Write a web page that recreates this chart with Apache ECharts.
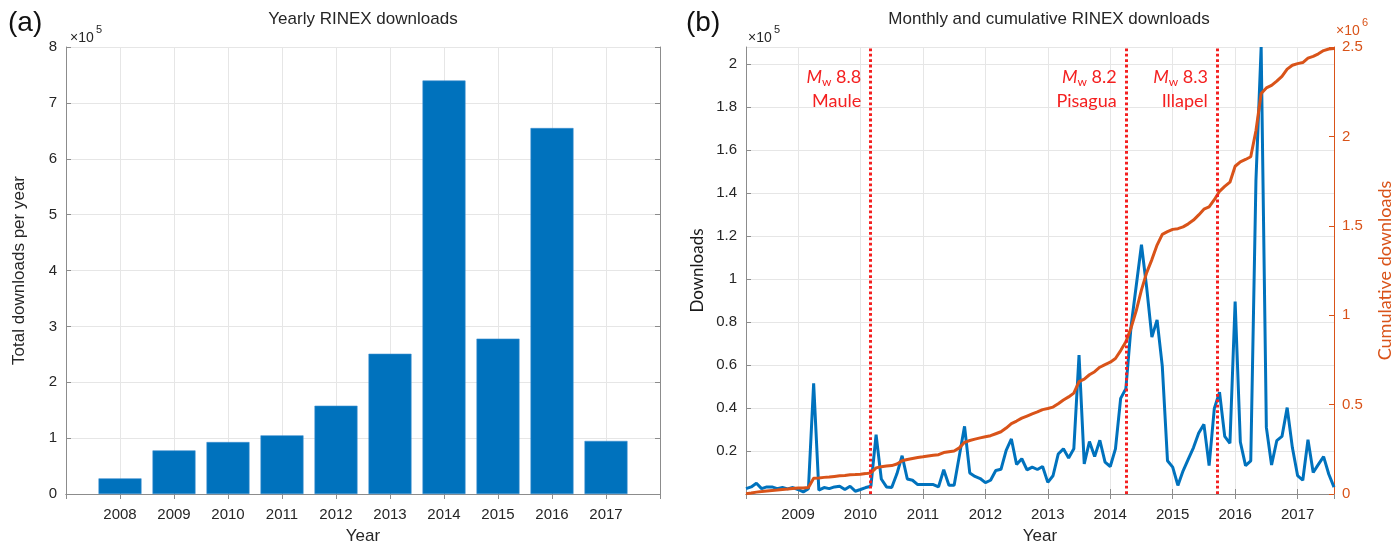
<!DOCTYPE html>
<html><head><meta charset="utf-8">
<script src="https://cdn.jsdelivr.net/npm/echarts@6/dist/echarts.min.js"></script>
<style>html,body{margin:0;padding:0;background:#fff}#c{width:1399px;height:550px}</style>
</head><body><div id="c"></div>
<script>
// ---------- data ----------
const years = [2008, 2009, 2010, 2011, 2012, 2013, 2014, 2015, 2016, 2017];
const yearlyDownloads = [28000, 78000, 93000, 105000, 158000, 251000, 740000, 278000, 655000, 95000];

const firstMonth = { year: 2008, month: 3 }; // monthly series starts March 2008
const monthlyDownloads = [
  2500, 3300, 5000, 2500, 3300, 3300, 2500, 3000, 2400, 3000,
  2100, 1000, 2500, 51500, 1800, 3000, 2500, 3300, 3600, 2100, 3600, 1300,
  2100, 3000, 3600, 27600, 7000, 3300, 3000, 9400, 17800, 7000, 6400, 4400,
  4400, 4400, 4400, 3300, 11300, 4100, 4100, 17800, 31500, 9800, 8200, 7200,
  5300, 6400, 10900, 11500, 20300, 25600, 13700, 16400, 11200, 12500, 11400, 12800,
  5400, 8500, 18600, 21000, 16800, 21000, 64600, 14000, 24400, 17400, 25000, 14800,
  12800, 21000, 44500, 49000, 78000, 97000, 116000, 96000, 73000, 81000, 59500, 15500,
  12500, 4000, 10800, 16200, 21600, 28400, 32400, 13200, 39800, 47400, 26800, 23600,
  89600, 24200, 13200, 15400, 146000, 208000, 31000, 13500, 24800, 26800, 40200, 21600,
  8600, 6400, 25300, 10000, 13800, 17400, 9200, 3200
];
const cumulativeDownloads = [
  2000, 5500, 10500, 13500, 17000, 20000, 22500, 25500, 28000, 31000,
  33000, 34000, 37000, 88000, 90000, 93000, 95000, 98500, 102000, 104000, 108000, 109000,
  111000, 114000, 118000, 146000, 153000, 156000, 159000, 168000, 186000, 193000, 199000, 204000,
  208000, 213000, 217000, 220000, 232000, 236000, 240000, 258000, 289000, 299000, 307000, 314000,
  320000, 326000, 337000, 348000, 369000, 394000, 408000, 424000, 436000, 448000, 459000, 472000,
  478000, 486000, 505000, 526000, 543000, 564000, 628000, 642000, 667000, 684000, 709000, 724000,
  737000, 758000, 802000, 851000, 929000, 1026000, 1142000, 1238000, 1311000, 1392000, 1452000, 1467000,
  1480000, 1484000, 1494000, 1511000, 1532000, 1561000, 1593000, 1606000, 1646000, 1693000, 1720000, 1744000,
  1833000, 1858000, 1871000, 1886000, 2032000, 2240000, 2271000, 2285000, 2309000, 2336000, 2376000, 2398000,
  2407000, 2413000, 2438000, 2448000, 2462000, 2480000, 2489000, 2492000
];
const earthquakes = [
  { name: 'Maule', mag: '8.8', date: '2010-02-27' },
  { name: 'Pisagua', mag: '8.2', date: '2014-04-01' },
  { name: 'Illapel', mag: '8.3', date: '2015-09-16' }
];
const yTicksYearly = [0, 1, 2, 3, 4, 5, 6, 7, 8];          // ×10^5
const yTicksMonthly = [0.2, 0.4, 0.6, 0.8, 1, 1.2, 1.4, 1.6, 1.8, 2]; // ×10^5
const yTicksCumulative = [0, 0.5, 1, 1.5, 2, 2.5];        // ×10^6

// ---------- helpers ----------
function monthIndexToYear(i) {
  const m = firstMonth.month - 1 + i;
  return firstMonth.year + m / 12;
}
function dateToYear(s) {
  const d = new Date(s + 'T00:00:00Z');
  const y = d.getUTCFullYear();
  const start = Date.UTC(y, 0, 1), end = Date.UTC(y + 1, 0, 1);
  return y + (d.getTime() - start) / (end - start);
}
const monthlyData = monthlyDownloads.map((v, i) => [monthIndexToYear(i), v]);
const cumulativeData = cumulativeDownloads.map((v, i) => [monthIndexToYear(i), v]);
const xMinB = monthIndexToYear(0);
const xMaxB = monthIndexToYear(monthlyDownloads.length - 1);
const leftMax = Math.max.apply(null, monthlyDownloads);

const FONT = '"Liberation Sans", Arial, sans-serif';
const FONT2 = 'Lato, "Open Sans", sans-serif';
const TXT = '#262626';
const AX = '#8c8c8c';
const GRIDC = '#e6e6e6';
const BLUE = '#0072BD';
const ORANGE = '#D95319';
const RED = '#F42020';

const baseLabel = { fontFamily: FONT, fontSize: 15, color: TXT };

const chart = echarts.init(document.getElementById('c'), null, { renderer: 'canvas' });

function fmt(v) { return String(+v.toFixed(2)); }

const option = {
  animation: false,
  grid: [
    { left: 66, top: 47, width: 594, height: 456 },
    { left: 746, top: 47, width: 588, height: 456 }
  ],
  xAxis: [
    {
      type: 'value', gridIndex: 0, min: 2007, max: 2018, interval: 1,
      axisLine: { lineStyle: { color: AX } },
      axisTick: { inside: true, length: 5, lineStyle: { color: AX } },
      axisLabel: Object.assign({}, baseLabel, { margin: 13,
        formatter: v => (years.indexOf(v) >= 0 ? String(v) : '') }),
      splitLine: { show: true, lineStyle: { color: GRIDC } },
      name: 'Year', nameLocation: 'middle', nameGap: 34,
      nameTextStyle: { fontFamily: FONT, fontSize: 17, color: TXT }
    },
    {
      type: 'value', gridIndex: 0, position: 'top', min: 2007, max: 2018, interval: 1,
      axisLine: { lineStyle: { color: AX } },
      axisTick: { inside: true, length: 5, lineStyle: { color: AX } },
      axisLabel: { show: false }, splitLine: { show: false }
    },
    {
      type: 'value', gridIndex: 1, min: xMinB, max: xMaxB, minInterval: 1, maxInterval: 1,
      axisLine: { lineStyle: { color: AX } },
      axisTick: { inside: true, length: 5, lineStyle: { color: AX } },
      axisLabel: Object.assign({}, baseLabel, { margin: 13, showMinLabel: false, showMaxLabel: false,
        formatter: v => (Math.abs(v - Math.round(v)) < 1e-6 ? String(Math.round(v)) : '') }),
      splitLine: { show: true, lineStyle: { color: GRIDC } },
      name: 'Year', nameLocation: 'middle', nameGap: 34,
      nameTextStyle: { fontFamily: FONT, fontSize: 17, color: TXT }
    },
    {
      type: 'value', gridIndex: 1, position: 'top', min: xMinB, max: xMaxB, minInterval: 1, maxInterval: 1,
      axisLine: { lineStyle: { color: AX } },
      axisTick: { inside: true, length: 5, lineStyle: { color: AX } },
      axisLabel: { show: false }, splitLine: { show: false }
    }
  ],
  yAxis: [
    {
      type: 'value', gridIndex: 0, min: 0, max: 800000, interval: 100000,
      axisLine: { show: true, lineStyle: { color: AX } },
      axisTick: { show: true, inside: true, length: 5, lineStyle: { color: AX } },
      axisLabel: Object.assign({}, baseLabel, { margin: 9,
        formatter: v => { const t = v / 1e5; return yTicksYearly.indexOf(t) >= 0 ? fmt(t) : ''; } }),
      splitLine: { show: true, lineStyle: { color: GRIDC } },
      name: 'Total downloads per year', nameLocation: 'middle', nameGap: 38, nameRotate: 90,
      nameTextStyle: { fontFamily: FONT, fontSize: 17, color: TXT }
    },
    {
      type: 'value', gridIndex: 0, position: 'right', min: 0, max: 800000, interval: 100000,
      axisLine: { show: true, lineStyle: { color: AX } },
      axisTick: { show: true, inside: true, length: 5, lineStyle: { color: AX } },
      axisLabel: { show: false }, splitLine: { show: false }
    },
    {
      type: 'value', gridIndex: 1, min: 0, max: leftMax, interval: 20000,
      axisLine: { show: true, lineStyle: { color: AX } },
      axisTick: { show: true, inside: true, length: 5, lineStyle: { color: AX } },
      axisLabel: Object.assign({}, baseLabel, { margin: 9, showMaxLabel: false,
        formatter: v => { const t = +(v / 1e5).toFixed(2); return yTicksMonthly.indexOf(t) >= 0 ? fmt(t) : ''; } }),
      splitLine: { show: true, lineStyle: { color: GRIDC } },
      name: 'Downloads', nameLocation: 'middle', nameGap: 40, nameRotate: 90,
      nameTextStyle: { fontFamily: FONT2, fontSize: 17, color: '#1a1a1a' }
    },
    {
      type: 'value', gridIndex: 1, position: 'right', min: 0, max: 2500000, interval: 500000,
      axisLine: { show: true, lineStyle: { color: ORANGE } },
      axisTick: { show: true, inside: true, length: 5, lineStyle: { color: ORANGE } },
      axisLabel: Object.assign({}, baseLabel, { color: ORANGE, margin: 8,
        formatter: v => { const t = +(v / 1e6).toFixed(2); return yTicksCumulative.indexOf(t) >= 0 ? fmt(t) : ''; } }),
      splitLine: { show: false },
      name: 'Cumulative downloads', nameLocation: 'middle', nameGap: 42, nameRotate: 90,
      nameTextStyle: { fontFamily: FONT2, fontSize: 18, color: ORANGE }
    }
  ],
  series: [
    {
      type: 'bar', xAxisIndex: 0, yAxisIndex: 0,
      data: years.map((y, i) => [y, yearlyDownloads[i]]),
      barWidth: 43,
      itemStyle: { color: BLUE, borderColor: '#3b8fd0', borderWidth: 0.6 }
    },
    {
      type: 'line', xAxisIndex: 2, yAxisIndex: 2, data: monthlyData,
      showSymbol: false, clip: true, z: 3,
      lineStyle: { color: BLUE, width: 3 },
      markLine: {
        silent: true, symbol: ['none', 'none'], label: { show: false },
        lineStyle: { color: RED, width: 3, type: [2.8, 2.6] },
        data: earthquakes.map(q => ({ xAxis: dateToYear(q.date) }))
      }
    },
    {
      type: 'line', xAxisIndex: 2, yAxisIndex: 3, data: cumulativeData,
      showSymbol: false, clip: true, z: 4,
      lineStyle: { color: ORANGE, width: 3 }
    }
  ]
};
chart.setOption(option);

// ---------- annotations (titles, panel letters, exponents, quake labels) ----------
const graphics = [
  { type: 'text', x: 363, y: 19, style: { text: 'Yearly RINEX downloads', font: '17px ' + FONT, fill: TXT, align: 'center', verticalAlign: 'middle' } },
  { type: 'text', x: 1049, y: 19, style: { text: 'Monthly and cumulative RINEX downloads', font: '17px ' + FONT, fill: TXT, align: 'center', verticalAlign: 'middle' } },
  { type: 'text', x: 8, y: 23, style: { text: '(a)', font: '28px ' + FONT, fill: '#111', align: 'left', verticalAlign: 'middle' } },
  { type: 'text', x: 686, y: 23, style: { text: '(b)', font: '28px ' + FONT, fill: '#111', align: 'left', verticalAlign: 'middle' } },
  { type: 'text', x: 70, y: 38, style: { text: '×10', font: '14px ' + FONT, fill: TXT, align: 'left', verticalAlign: 'middle' } },
  { type: 'text', x: 96, y: 30, style: { text: '5', font: '11px ' + FONT, fill: TXT, align: 'left', verticalAlign: 'middle' } },
  { type: 'text', x: 748, y: 38, style: { text: '×10', font: '14px ' + FONT, fill: TXT, align: 'left', verticalAlign: 'middle' } },
  { type: 'text', x: 774, y: 30, style: { text: '5', font: '11px ' + FONT, fill: TXT, align: 'left', verticalAlign: 'middle' } },
  { type: 'text', x: 1336, y: 31, style: { text: '×10', font: '14px ' + FONT, fill: ORANGE, align: 'left', verticalAlign: 'middle' } },
  { type: 'text', x: 1362, y: 23, style: { text: '6', font: '11px ' + FONT, fill: ORANGE, align: 'left', verticalAlign: 'middle' } }
];
earthquakes.forEach(q => {
  const px = chart.convertToPixel({ xAxisIndex: 2 }, dateToYear(q.date));
  graphics.push({
    type: 'text', x: px - 9, y: 77,
    style: {
      text: '{i|M}{s|w}{n| ' + q.mag + '}', align: 'right', verticalAlign: 'middle',
      rich: {
        i: { fontFamily: FONT2, fontSize: 18, fontStyle: 'italic', fill: RED, color: RED, verticalAlign: 'middle', lineHeight: 22 },
        s: { fontFamily: FONT2, fontSize: 12, fill: RED, color: RED, verticalAlign: 'bottom', lineHeight: 12 },
        n: { fontFamily: FONT2, fontSize: 18, fill: RED, color: RED, verticalAlign: 'middle', lineHeight: 22 }
      }
    }
  });
  graphics.push({
    type: 'text', x: px - 9, y: 101,
    style: { text: q.name, font: '18px ' + FONT2, fill: RED, align: 'right', verticalAlign: 'middle' }
  });
});
chart.setOption({ graphic: graphics });
</script>
</body></html>
